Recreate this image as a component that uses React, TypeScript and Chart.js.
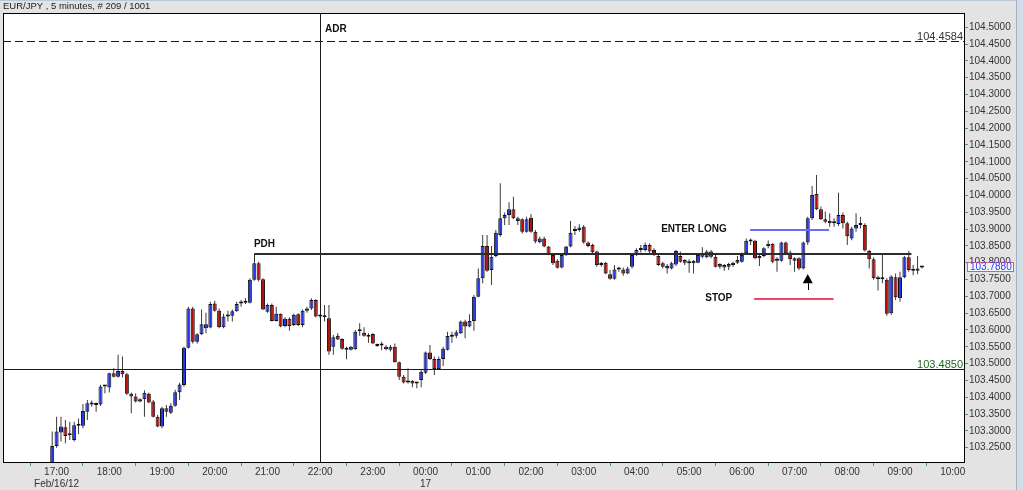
import React, { useEffect, useRef } from "react";
import { Chart, registerables } from "chart.js";

Chart.register(...registerables);

// ---- data -----------------------------------------------------------------
const TITLE = "EUR/JPY , 5 minutes, # 209 / 1001";
// minutes relative to 17:00 Feb/16 of the first candle, and candle step
const FIRST_CANDLE_MIN = -5;
const CANDLE_STEP_MIN = 5;

const opens = [
  103.170,103.255,103.295,103.311,103.289,103.273,103.320,103.315,103.357,103.384,
  103.378,103.378,103.432,103.429,103.471,103.461,103.478,103.468,103.410,103.402,
  103.387,103.394,103.410,103.387,103.342,103.313,103.367,103.354,103.375,103.415,
  103.436,103.547,103.664,103.565,103.587,103.605,103.607,103.679,103.657,103.608,
  103.640,103.642,103.656,103.679,103.681,103.681,103.749,103.798,103.751,103.654,
  103.674,103.627,103.648,103.612,103.633,103.615,103.647,103.615,103.657,103.664,
  103.689,103.640,103.642,103.635,103.550,103.583,103.573,103.544,103.541,103.543,
  103.597,103.592,103.580,103.588,103.553,103.555,103.550,103.541,103.550,103.504,
  103.461,103.444,103.449,103.441,103.451,103.473,103.533,103.514,103.484,103.514,
  103.541,103.580,103.583,103.590,103.625,103.610,103.627,103.699,103.754,103.850,
  103.778,103.820,103.882,103.932,103.942,103.959,103.932,103.929,103.892,103.934,
  103.892,103.861,103.872,103.848,103.823,103.806,103.786,103.823,103.848,103.894,
  103.897,103.907,103.860,103.853,103.833,103.793,103.800,103.766,103.752,103.780,
  103.780,103.768,103.788,103.825,103.838,103.838,103.853,103.838,103.820,103.798,
  103.790,103.783,103.795,103.820,103.808,103.803,103.798,103.800,103.828,103.816,
  103.833,103.818,103.796,103.793,103.788,103.793,103.800,103.803,103.828,103.866,
  103.865,103.820,103.820,103.850,103.856,103.810,103.806,103.860,103.830,103.813,
  103.813,103.783,103.860,103.932,104.004,103.959,103.929,103.924,103.917,103.915,
  103.942,103.917,103.872,103.902,103.912,103.912,103.835,103.810,103.754,103.751,
  103.749,103.650,103.757,103.694,103.757,103.816,103.778,103.776,103.786,
];

const highs = [
  103.298,103.342,103.342,103.332,103.327,103.327,103.337,103.380,103.392,103.390,
  103.384,103.437,103.437,103.473,103.486,103.526,103.521,103.473,103.414,103.412,
  103.397,103.421,103.414,103.392,103.347,103.372,103.377,103.382,103.422,103.443,
  103.550,103.669,103.669,103.590,103.661,103.651,103.684,103.687,103.664,103.648,
  103.657,103.661,103.684,103.689,103.694,103.754,103.801,103.803,103.754,103.679,
  103.679,103.669,103.649,103.638,103.638,103.648,103.650,103.661,103.669,103.694,
  103.691,103.645,103.674,103.674,103.585,103.590,103.575,103.550,103.552,103.600,
  103.620,103.608,103.590,103.590,103.560,103.565,103.555,103.555,103.560,103.506,
  103.466,103.486,103.451,103.446,103.481,103.536,103.555,103.521,103.521,103.550,
  103.595,103.595,103.600,103.628,103.630,103.647,103.704,103.783,103.882,103.882,
  103.850,103.897,104.036,103.949,103.980,103.996,103.937,103.932,103.937,103.945,
  103.897,103.877,103.877,103.850,103.826,103.810,103.828,103.850,103.924,103.909,
  103.914,103.912,103.863,103.856,103.836,103.802,103.803,103.778,103.793,103.788,
  103.786,103.788,103.828,103.843,103.853,103.860,103.858,103.843,103.823,103.803,
  103.796,103.803,103.838,103.833,103.810,103.810,103.808,103.828,103.846,103.838,
  103.838,103.823,103.798,103.796,103.800,103.803,103.820,103.830,103.872,103.872,
  103.868,103.823,103.846,103.866,103.858,103.816,103.863,103.863,103.836,103.816,
  103.816,103.863,103.937,104.028,104.061,103.967,103.952,103.947,103.932,104.008,
  103.949,103.922,103.907,103.947,103.937,103.917,103.838,103.816,103.761,103.823,
  103.754,103.763,103.768,103.773,103.820,103.835,103.793,103.820,103.790,
];

const lows = [
  103.160,103.250,103.268,103.263,103.273,103.268,103.291,103.308,103.332,103.372,
  103.357,103.374,103.412,103.414,103.459,103.459,103.459,103.407,103.352,103.384,
  103.385,103.342,103.382,103.340,103.311,103.308,103.342,103.350,103.372,103.392,
  103.431,103.545,103.560,103.560,103.585,103.590,103.605,103.654,103.605,103.605,
  103.625,103.625,103.654,103.669,103.677,103.679,103.746,103.744,103.659,103.651,
  103.625,103.625,103.608,103.608,103.598,103.612,103.612,103.608,103.651,103.659,
  103.638,103.635,103.625,103.526,103.526,103.570,103.541,103.513,103.539,103.541,
  103.583,103.580,103.562,103.558,103.550,103.540,103.540,103.536,103.503,103.451,
  103.441,103.441,103.430,103.427,103.430,103.469,103.511,103.466,103.481,103.493,
  103.539,103.562,103.575,103.588,103.575,103.608,103.598,103.697,103.739,103.773,
  103.734,103.816,103.877,103.912,103.912,103.929,103.912,103.887,103.889,103.889,
  103.858,103.858,103.846,103.822,103.793,103.783,103.783,103.820,103.846,103.882,
  103.892,103.856,103.846,103.828,103.788,103.788,103.766,103.749,103.749,103.773,
  103.761,103.766,103.783,103.820,103.830,103.833,103.828,103.820,103.790,103.783,
  103.768,103.780,103.790,103.800,103.793,103.770,103.768,103.798,103.813,103.813,
  103.813,103.786,103.782,103.776,103.778,103.788,103.796,103.800,103.823,103.853,
  103.810,103.790,103.816,103.843,103.798,103.773,103.803,103.823,103.793,103.773,
  103.778,103.780,103.853,103.927,103.957,103.927,103.917,103.907,103.907,103.909,
  103.902,103.853,103.867,103.892,103.902,103.833,103.783,103.749,103.717,103.739,
  103.642,103.645,103.689,103.684,103.754,103.773,103.763,103.766,103.783,
];

const closes = [
  103.255,103.298,103.313,103.285,103.287,103.317,103.315,103.359,103.382,103.378,
  103.377,103.432,103.434,103.471,103.461,103.478,103.468,103.410,103.402,103.387,
  103.394,103.413,103.384,103.342,103.313,103.367,103.357,103.375,103.415,103.438,
  103.547,103.664,103.565,103.587,103.617,103.617,103.677,103.657,103.608,103.640,
  103.640,103.656,103.677,103.681,103.684,103.749,103.798,103.749,103.661,103.674,
  103.627,103.648,103.610,103.633,103.612,103.645,103.615,103.657,103.664,103.689,
  103.640,103.640,103.638,103.536,103.578,103.572,103.544,103.541,103.550,103.595,
  103.596,103.583,103.585,103.560,103.552,103.554,103.543,103.550,103.504,103.461,
  103.444,103.449,103.441,103.442,103.476,103.533,103.514,103.484,103.514,103.544,
  103.582,103.583,103.593,103.625,103.610,103.627,103.699,103.754,103.850,103.776,
  103.818,103.889,103.932,103.942,103.959,103.932,103.924,103.892,103.929,103.892,
  103.863,103.872,103.848,103.826,103.798,103.785,103.823,103.848,103.889,103.899,
  103.905,103.860,103.850,103.831,103.793,103.798,103.768,103.752,103.780,103.781,
  103.768,103.783,103.823,103.838,103.843,103.853,103.833,103.823,103.793,103.788,
  103.783,103.798,103.835,103.803,103.800,103.798,103.806,103.823,103.818,103.833,
  103.818,103.788,103.788,103.786,103.796,103.800,103.808,103.823,103.865,103.863,
  103.813,103.813,103.843,103.856,103.803,103.806,103.860,103.828,103.810,103.806,
  103.783,103.860,103.932,104.001,103.959,103.929,103.922,103.917,103.918,103.942,
  103.917,103.879,103.902,103.912,103.913,103.836,103.810,103.754,103.751,103.752,
  103.648,103.759,103.697,103.757,103.816,103.778,103.776,103.783,103.788,
];

// x axis (minutes from 17:00 Feb/16)
const X_MIN = -61;
const X_MAX = 1034;
const xTickMinutes = [0, 60, 120, 180, 240, 300, 360, 420, 480, 540, 600, 660, 720, 780, 840, 900, 960, 1020];
const xTickLabels = ["17:00", "18:00", "19:00", "20:00", "21:00", "22:00", "23:00", "00:00", "01:00", "02:00", "03:00", "04:00", "05:00", "06:00", "07:00", "08:00", "09:00", "10:00"];
const xTickSubLabels: Record<number, string> = { 0: "Feb/16/12", 420: "17" };

// y axis
const Y_MIN = 103.2044;
const Y_MAX = 104.5425;
const yTicks = [
  103.25, 103.30, 103.35, 103.40, 103.45, 103.50, 103.55, 103.60, 103.65, 103.70,
  103.75, 103.80, 103.85, 103.90, 103.95, 104.00, 104.05, 104.10, 104.15, 104.20,
  104.25, 104.30, 104.35, 104.40, 104.45, 104.50,
];

// annotations (time in minutes, price)
const ADR_HIGH = 104.4584;
const ADR_LOW = 103.485;
const ADR_TIME = 300;
const ADR_LABEL = { text: "ADR", t: 305.5, p: 104.4949 };
const PDH_PRICE = 103.8253;
const PDH_FROM = 225;
const PDH_TO = 973;
const PDH_TICK_TO = 103.801;
const PDH_LABEL = { text: "PDH", t: 224.6, p: 103.8556 };
const ENTER_LINE = { p: 103.8969, from: 789.4, to: 879.3 };
const ENTER_LABEL = { text: "ENTER LONG", t: 688.2, p: 103.9002 };
const STOP_LINE = { p: 103.6917, from: 794, to: 884.3 };
const STOP_LABEL = { text: "STOP", t: 738.3, p: 103.695 };
const ARROW = { t: 855, tip: 103.7664, base: 103.7388, tail: 103.7188 };
const LAST_PRICE = 103.788;

// ---- styles ---------------------------------------------------------------
const FONT = '"Liberation Sans", Arial, sans-serif';
const BG = "#e3e3e3";
const BLUE = "#2436e6";
const RED = "#b80d0d";
const WICK = "#3a3a3a";
const TEAL = "#3f9b9b";

const overlayPlugin = {
  id: "overlay",
  beforeDraw(chart: any) {
    const { ctx, chartArea: a, width, height } = chart;
    ctx.save();
    ctx.fillStyle = BG;
    ctx.fillRect(0, 0, width, height);
    ctx.fillStyle = "#ffffff";
    ctx.fillRect(a.left, a.top, a.right - a.left, a.bottom - a.top);
    // scrollbar strip on the right
    ctx.fillStyle = "#d3dde8";
    ctx.fillRect(1016, 0, 7, height);
    ctx.fillStyle = "#9fb2c6";
    ctx.fillRect(1016, 0, 1, height);
    ctx.fillStyle = "#b9c8d8";
    ctx.fillRect(0, 0, 1016, 1);
    // title
    ctx.fillStyle = "#222";
    ctx.font = `9.5px ${FONT}`;
    ctx.textBaseline = "middle";
    ctx.textAlign = "left";
    ctx.fillText(TITLE, 3, 6.5);
    ctx.restore();
  },
  afterDatasetsDraw(chart: any) {
    const { ctx, chartArea: a } = chart;
    const xs = chart.scales.x;
    const ys = chart.scales.y;
    const X = (t: number) => xs.getPixelForValue(t);
    const Y = (p: number) => ys.getPixelForValue(p);
    const crisp = (v: number) => Math.round(v) + 0.5;
    ctx.save();
    ctx.beginPath();
    ctx.rect(a.left, a.top, a.right - a.left, a.bottom - a.top);
    ctx.clip();

    // ADR dashed high line
    ctx.strokeStyle = "#1a1a1a";
    ctx.lineWidth = 1;
    ctx.setLineDash([8, 4]);
    ctx.beginPath();
    ctx.moveTo(a.left, crisp(Y(ADR_HIGH)));
    ctx.lineTo(a.right, crisp(Y(ADR_HIGH)));
    ctx.stroke();
    ctx.setLineDash([]);

    // ADR low line
    ctx.strokeStyle = "#1a1a1a";
    ctx.beginPath();
    ctx.moveTo(a.left, crisp(Y(ADR_LOW)));
    ctx.lineTo(a.right, crisp(Y(ADR_LOW)));
    ctx.stroke();

    // vertical session line
    ctx.beginPath();
    ctx.moveTo(crisp(X(ADR_TIME)), a.top);
    ctx.lineTo(crisp(X(ADR_TIME)), a.bottom);
    ctx.stroke();

    // PDH line
    ctx.strokeStyle = "#2b2b2b";
    ctx.lineWidth = 2;
    const py = Math.round(Y(PDH_PRICE));
    ctx.beginPath();
    ctx.moveTo(X(PDH_FROM), py);
    ctx.lineTo(X(PDH_TO), py);
    ctx.stroke();
    ctx.lineWidth = 1;
    ctx.beginPath();
    ctx.moveTo(crisp(X(PDH_FROM)), py);
    ctx.lineTo(crisp(X(PDH_FROM)), Y(PDH_TICK_TO));
    ctx.stroke();

    // ENTER / STOP lines
    ctx.lineWidth = 2;
    ctx.strokeStyle = "#6b6bff";
    ctx.beginPath();
    ctx.moveTo(X(ENTER_LINE.from), Math.round(Y(ENTER_LINE.p)));
    ctx.lineTo(X(ENTER_LINE.to), Math.round(Y(ENTER_LINE.p)));
    ctx.stroke();
    ctx.strokeStyle = "#ee4268";
    ctx.beginPath();
    ctx.moveTo(X(STOP_LINE.from), Math.round(Y(STOP_LINE.p)));
    ctx.lineTo(X(STOP_LINE.to), Math.round(Y(STOP_LINE.p)));
    ctx.stroke();

    // arrow
    const ax = X(ARROW.t);
    ctx.fillStyle = "#000";
    ctx.beginPath();
    ctx.moveTo(ax, Y(ARROW.tip));
    ctx.lineTo(ax + 5, Y(ARROW.base));
    ctx.lineTo(ax - 5, Y(ARROW.base));
    ctx.closePath();
    ctx.fill();
    ctx.strokeStyle = "#000";
    ctx.lineWidth = 1;
    ctx.beginPath();
    ctx.moveTo(crisp(ax), Y(ARROW.base));
    ctx.lineTo(crisp(ax), Y(ARROW.tail));
    ctx.stroke();

    // bold labels
    ctx.fillStyle = "#111";
    ctx.font = `bold 10px ${FONT}`;
    ctx.textAlign = "left";
    ctx.textBaseline = "middle";
    for (const l of [ADR_LABEL, PDH_LABEL, ENTER_LABEL, STOP_LABEL]) {
      ctx.fillText(l.text, X(l.t), Y(l.p));
    }

    // price labels at right edge
    ctx.font = `11px ${FONT}`;
    ctx.textAlign = "right";
    ctx.textBaseline = "alphabetic";
    ctx.fillStyle = "#333";
    ctx.fillText(ADR_HIGH.toFixed(4), a.right - 2, Y(ADR_HIGH) - 1.5);
    ctx.fillStyle = "#1c6b1c";
    ctx.fillText(ADR_LOW.toFixed(4), a.right - 2, Y(ADR_LOW) - 1);
    ctx.restore();
  },
  afterDraw(chart: any) {
    const { ctx, chartArea: a } = chart;
    const ys = chart.scales.y;
    ctx.save();
    ctx.strokeStyle = "#000";
    ctx.lineWidth = 1;
    ctx.strokeRect(Math.round(a.left) + 0.5, Math.round(a.top) + 0.5, Math.round(a.right - a.left) - 1, Math.round(a.bottom - a.top) - 1);
    // last price box
    const yc = ys.getPixelForValue(LAST_PRICE);
    const bx = Math.round(a.right) + 2;
    const by = Math.round(yc - 4.5);
    ctx.fillStyle = "#f5f5fb";
    ctx.fillRect(bx, by, 47, 9);
    ctx.strokeStyle = "#e25a68";
    ctx.strokeRect(bx + 0.5, by + 0.5, 46, 9);
    ctx.fillStyle = "#3040ff";
    ctx.font = `10px ${FONT}`;
    ctx.textAlign = "left";
    ctx.textBaseline = "middle";
    ctx.fillText(LAST_PRICE.toFixed(4), bx + 3, yc + 0.5);
    ctx.restore();
  },
};

export default function App() {
  const ref = useRef<HTMLCanvasElement>(null);

  useEffect(() => {
    if (!ref.current) return;
    const n = Math.min(opens.length, highs.length, lows.length, closes.length);
    const wicks: any[] = [];
    const bodies: any[] = [];
    const colors: string[] = [];
    for (let i = 0; i < n; i++) {
      const t = FIRST_CANDLE_MIN + i * CANDLE_STEP_MIN;
      wicks.push({ x: t, y: [lows[i], highs[i]] });
      bodies.push({ x: t, y: [Math.min(opens[i], closes[i]), Math.max(opens[i], closes[i])] });
      colors.push(closes[i] >= opens[i] ? BLUE : RED);
    }

    const chart = new Chart(ref.current, {
      type: "bar",
      data: {
        datasets: [
          {
            label: "body",
            data: bodies,
            backgroundColor: colors,
            borderColor: "#111",
            borderWidth: 1,
            borderSkipped: false,
            barThickness: 4,
            minBarLength: 2,
            grouped: false,
            inflateAmount: 0,
            order: 0,
          } as any,
          {
            label: "wick",
            data: wicks,
            backgroundColor: WICK,
            borderWidth: 0,
            barThickness: 1,
            minBarLength: 1,
            grouped: false,
            inflateAmount: 0,
            order: 1,
          } as any,
        ],
      },
      options: {
        responsive: false,
        maintainAspectRatio: false,
        devicePixelRatio: 1,
        animation: false,
        events: [],
        layout: { padding: { top: 13, left: 3, right: 0, bottom: 0 } },
        plugins: { legend: { display: false }, tooltip: { enabled: false }, title: { display: false } },
        scales: {
          x: {
            type: "linear",
            min: X_MIN,
            max: X_MAX,
            offset: false,
            afterBuildTicks: (scale: any) => {
              scale.ticks = xTickMinutes.map((v) => ({ value: v }));
            },
            afterFit: (scale: any) => {
              scale.height = 27;
            },
            grid: { display: true, drawOnChartArea: false, drawTicks: true, tickLength: 3, color: TEAL },
            border: { display: false },
            ticks: {
              autoSkip: false,
              maxRotation: 0,
              minRotation: 0,
              padding: 0,
              color: "#333",
              font: { family: FONT, size: 10, lineHeight: 1.2 },
              callback: (value: any) => {
                const idx = xTickMinutes.indexOf(Number(value));
                const label = idx >= 0 ? xTickLabels[idx] : "";
                const sub = xTickSubLabels[Number(value)];
                return sub ? [label, sub] : label;
              },
            },
          },
          y: {
            type: "linear",
            position: "right",
            min: Y_MIN,
            max: Y_MAX,
            afterBuildTicks: (scale: any) => {
              scale.ticks = yTicks.map((v) => ({ value: v }));
            },
            afterFit: (scale: any) => {
              scale.width = 58;
            },
            grid: { display: true, drawOnChartArea: false, drawTicks: true, tickLength: 3, color: TEAL },
            border: { display: false },
            ticks: {
              padding: 1,
              color: "#333",
              font: { family: FONT, size: 10 },
              callback: (value: any) => Number(value).toFixed(4),
            },
          },
        },
      } as any,
      plugins: [overlayPlugin],
    });

    return () => chart.destroy();
  }, []);

  return (
    <div style={{ position: "fixed", left: 0, top: 0, width: 1023, height: 490, background: BG }}>
      <canvas ref={ref} width={1023} height={490} style={{ display: "block", width: 1023, height: 490 }} />
    </div>
  );
}
